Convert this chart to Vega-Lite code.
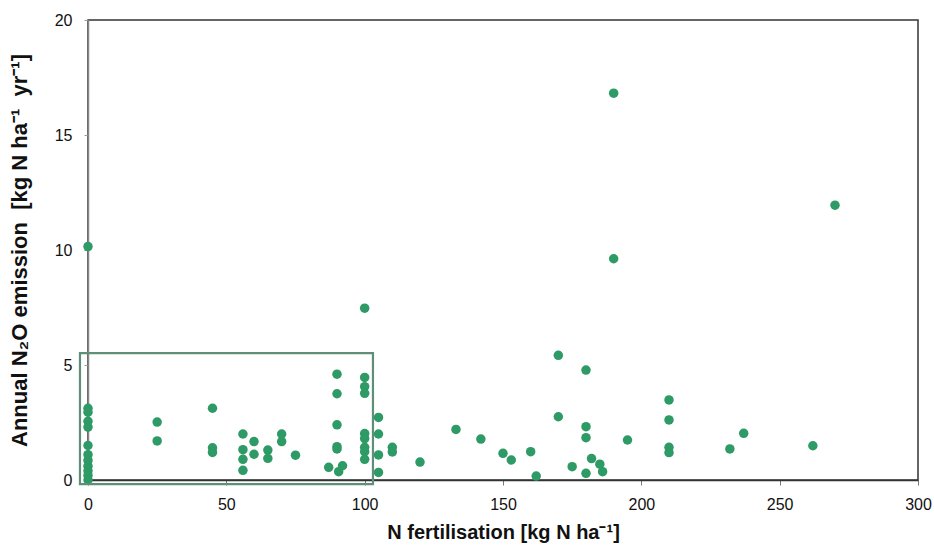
{
  "$schema": "https://vega.github.io/schema/vega-lite/v6.json",
  "width": 830,
  "height": 460,
  "autosize": "none",
  "padding": {"left": 88, "top": 20, "right": 16, "bottom": 65},
  "background": "white",
  "config": {
    "view": {"stroke": "#333333", "strokeWidth": 1.5},
    "font": "Liberation Sans"
  },
  "datasets": {
    "pts": [
      {"N": 0, "N2O": 10.15}, {"N": 0, "N2O": 3.12}, {"N": 0, "N2O": 2.95}, {"N": 0, "N2O": 2.55},
      {"N": 0, "N2O": 2.3}, {"N": 0, "N2O": 1.5}, {"N": 0, "N2O": 1.1}, {"N": 0, "N2O": 0.85},
      {"N": 0, "N2O": 0.6}, {"N": 0, "N2O": 0.4}, {"N": 0, "N2O": 0.2}, {"N": 0, "N2O": 0.0},
      {"N": 25, "N2O": 2.52}, {"N": 25, "N2O": 1.7},
      {"N": 45, "N2O": 3.12}, {"N": 45, "N2O": 1.4}, {"N": 45, "N2O": 1.2},
      {"N": 56, "N2O": 2.0}, {"N": 56, "N2O": 1.32}, {"N": 56, "N2O": 0.9}, {"N": 56, "N2O": 0.42},
      {"N": 60, "N2O": 1.67}, {"N": 60, "N2O": 1.12},
      {"N": 65, "N2O": 1.3}, {"N": 65, "N2O": 0.94},
      {"N": 70, "N2O": 2.0}, {"N": 70, "N2O": 1.67},
      {"N": 75, "N2O": 1.08},
      {"N": 87, "N2O": 0.55},
      {"N": 90, "N2O": 4.6}, {"N": 90, "N2O": 3.75}, {"N": 90, "N2O": 2.4}, {"N": 90, "N2O": 1.45}, {"N": 90, "N2O": 1.35}, {"N": 90.6, "N2O": 0.36},
      {"N": 92, "N2O": 0.62},
      {"N": 100, "N2O": 7.47}, {"N": 100, "N2O": 4.46}, {"N": 100, "N2O": 4.06}, {"N": 100, "N2O": 3.77},
      {"N": 100, "N2O": 2.02}, {"N": 100, "N2O": 1.8}, {"N": 100, "N2O": 1.42}, {"N": 100, "N2O": 1.23}, {"N": 100, "N2O": 0.9},
      {"N": 105, "N2O": 2.72}, {"N": 105, "N2O": 2.0}, {"N": 105, "N2O": 1.09}, {"N": 105, "N2O": 0.33},
      {"N": 110, "N2O": 1.42}, {"N": 110, "N2O": 1.22},
      {"N": 120, "N2O": 0.78},
      {"N": 133, "N2O": 2.2},
      {"N": 142, "N2O": 1.78},
      {"N": 150, "N2O": 1.16},
      {"N": 153, "N2O": 0.87},
      {"N": 160, "N2O": 1.23},
      {"N": 162, "N2O": 0.17},
      {"N": 170, "N2O": 5.42}, {"N": 170, "N2O": 2.75},
      {"N": 175, "N2O": 0.58},
      {"N": 180, "N2O": 4.78}, {"N": 180, "N2O": 2.32}, {"N": 180, "N2O": 1.84}, {"N": 180, "N2O": 0.29},
      {"N": 182, "N2O": 0.93},
      {"N": 185, "N2O": 0.69},
      {"N": 186, "N2O": 0.36},
      {"N": 190, "N2O": 16.82}, {"N": 190, "N2O": 9.62},
      {"N": 195, "N2O": 1.74},
      {"N": 210, "N2O": 3.48}, {"N": 210, "N2O": 2.61}, {"N": 210, "N2O": 1.42}, {"N": 210, "N2O": 1.19},
      {"N": 232, "N2O": 1.35},
      {"N": 237, "N2O": 2.03},
      {"N": 262, "N2O": 1.49},
      {"N": 270, "N2O": 11.95}
    ],
    "box": [{"x0": -2.9, "x1": 103, "y0": -0.18, "y1": 5.52}]
  },
  "layer": [
    {
      "data": {"name": "pts"},
      "mark": {"type": "circle", "size": 90, "color": "#2e9a66", "opacity": 1},
      "encoding": {
        "x": {
          "field": "N", "type": "quantitative",
          "scale": {"domain": [0, 300], "nice": false, "zero": false},
          "axis": {
            "values": [0, 50, 100, 150, 200, 250, 300],
            "grid": false,
            "labelFlush": false,
            "title": "N fertilisation [kg N ha⁻¹]",
            "titleFont": "Liberation Sans", "titleFontSize": 20, "titleFontWeight": "bold", "titleColor": "#111",
            "titlePadding": 10,
            "labelFont": "Liberation Sans", "labelFontSize": 16, "labelColor": "#111",
            "labelPadding": 11,
            "tickSize": 5, "tickColor": "#777",
            "domainColor": "#333", "domainWidth": 1.5
          }
        },
        "y": {
          "field": "N2O", "type": "quantitative",
          "scale": {"domain": [0, 20], "nice": false, "zero": false},
          "axis": {
            "values": [0, 5, 10, 15, 20],
            "grid": false,
            "labelFlush": false,
            "title": "Annual N₂O emission\u00a0\u00a0[kg N ha⁻¹\u00a0\u00a0yr⁻¹]",
            "titleFont": "Liberation Sans", "titleFontSize": 22, "titleFontWeight": "bold", "titleColor": "#111",
            "titlePadding": 23,
            "labelFont": "Liberation Sans", "labelFontSize": 16, "labelColor": "#111",
            "labelPadding": 12,
            "tickSize": 4, "tickColor": "#999",
            "domainColor": "#888", "domainWidth": 1.5
          }
        }
      }
    },
    {
      "data": {"name": "box"},
      "mark": {"type": "rect", "fill": null, "fillOpacity": 0, "stroke": "#5f8f78", "strokeWidth": 2.2, "clip": false},
      "encoding": {
        "x": {"field": "x0", "type": "quantitative"},
        "x2": {"field": "x1"},
        "y": {"field": "y0", "type": "quantitative"},
        "y2": {"field": "y1"}
      }
    }
  ]
}
